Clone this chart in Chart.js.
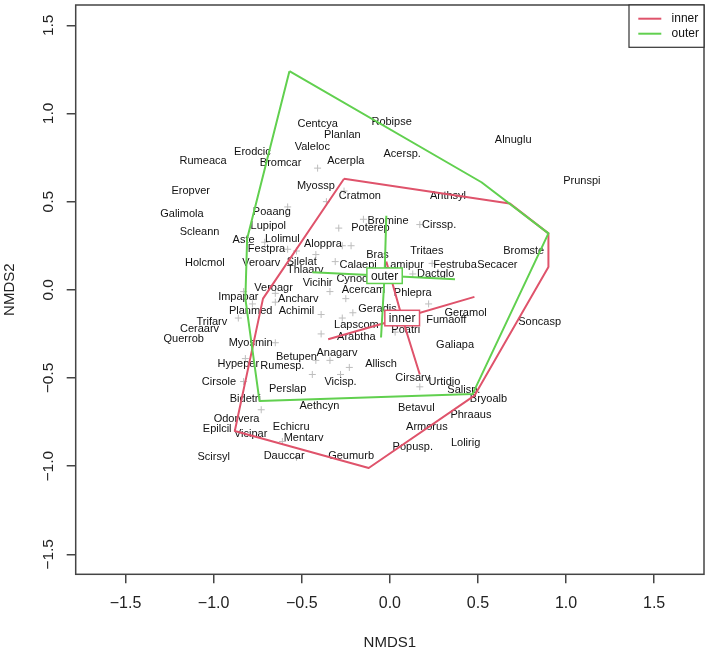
<!DOCTYPE html>
<html>
<head>
<meta charset="utf-8">
<script src="https://cdn.jsdelivr.net/npm/chart.js@4.4.1/dist/chart.umd.min.js"></script>
<style>
  html, body { margin: 0; padding: 0; background: #fff; }
  #wrap { width: 709px; height: 650px; }
</style>
</head>
<body>
<div id="wrap"><canvas id="nmds"></canvas></div>
<script>
// species labels (NMDS1 / NMDS2 scores)
const speciesNames = ['Rumeaca','Eropver','Galimola','Scleann','Holcmol','Trifarv','Ceraarv','Querrob','Cirsole','Hypeper',
  'Impapar','Erodcic','Bromcar','Centcya','Planlan','Robipse','Valeloc','Acerpla','Acersp.','Myossp',
  'Cratmon','Anthsyl','Poaang','Alnuglu','Prunspi','Lupipol','Aste','Lolimul','Festpra','Veroarv',
  'Silelat','Thlaarv','Veroagr','Ancharv','Planmed','Achimil','Myosmin','Betupen','Rumesp.','Perslap',
  'Bidetri','Odorvera','Epilcil','Vicipar','Scirsyl','Echicru','Mentarv','Dauccar','Geumurb','Aethcyn',
  'Betavul','Armorus','Popusp.','Phraaus','Lolirig','Bryoalb','Salisp.','Urtidio','Cirsarv','Allisch',
  'Vicisp.','Anagarv','Galiapa','Arabtha','Lapscom','Poatri','Geradis','Fumaoff','Geramol','Phlepra',
  'Acercam','Vicihir','Cynodac','Calaepi','Lamipur','Dactglo','Festruba','Secacer','Bromste','Soncasp',
  'Tritaes','Bras','Bromine','Poterep','Cirssp.','Aloppra'];
const speciesX = [-1.06,-1.13,-1.18,-1.08,-1.05,-1.01,-1.08,-1.17,-0.97,-0.86,
  -0.86,-0.78,-0.62,-0.41,-0.27,0.01,-0.44,-0.25,0.07,-0.42,
  -0.17,0.33,-0.67,0.70,1.09,-0.69,-0.83,-0.61,-0.70,-0.73,
  -0.50,-0.48,-0.66,-0.52,-0.79,-0.53,-0.79,-0.53,-0.61,-0.58,
  -0.82,-0.87,-0.98,-0.79,-1.00,-0.56,-0.49,-0.60,-0.22,-0.40,
  0.15,0.21,0.13,0.46,0.43,0.56,0.42,0.31,0.13,-0.05,
  -0.28,-0.30,0.37,-0.19,-0.19,0.09,-0.07,0.32,0.43,0.13,
  -0.15,-0.41,-0.18,-0.18,0.08,0.26,0.37,0.61,0.76,0.85,
  0.21,-0.07,-0.01,-0.11,0.28,-0.38];
const speciesY = [0.73,0.56,0.43,0.33,0.15,-0.18,-0.22,-0.28,-0.52,-0.42,
  -0.04,0.78,0.72,0.94,0.88,0.95,0.81,0.73,0.77,0.59,
  0.53,0.53,0.44,0.85,0.62,0.36,0.28,0.29,0.23,0.15,
  0.16,0.11,0.01,-0.05,-0.12,-0.12,-0.30,-0.38,-0.43,-0.56,
  -0.62,-0.73,-0.79,-0.82,-0.95,-0.78,-0.84,-0.94,-0.94,-0.66,
  -0.67,-0.78,-0.89,-0.71,-0.87,-0.62,-0.57,-0.52,-0.50,-0.42,
  -0.52,-0.36,-0.31,-0.27,-0.20,-0.23,-0.11,-0.17,-0.13,-0.02,
  0.00,0.04,0.06,0.14,0.14,0.09,0.14,0.14,0.22,-0.18,
  0.22,0.20,0.39,0.35,0.37,0.26];

// faint grey '+' points
const markX = [-0.15,-0.29,0.17,-0.27,-0.22,-0.42,-0.31,0.13,-0.34,-0.25,-0.39,-0.27,0.22,-0.39,0.03,0.24,-0.58,-0.71,-0.58,-0.53,
  -0.65,-0.65,-0.83,-0.86,-0.78,-0.65,-0.82,-0.83,-0.73,-0.42,-0.34,-0.23,-0.44,-0.28,0.17,-0.41,-0.26,-0.36,-0.61,-0.53,-0.21];
const markY = [0.40,0.35,0.37,0.25,0.25,0.20,0.16,0.09,-0.01,-0.05,-0.14,-0.16,-0.08,-0.25,-0.24,0.15,0.47,0.27,0.23,0.22,
  -0.02,-0.07,-0.01,-0.16,-0.08,-0.30,-0.39,-0.52,-0.68,-0.40,-0.40,-0.44,-0.48,-0.48,-0.55,0.69,0.56,0.50,-0.86,-0.95,-0.13];

// groups
const groupNames = ['inner', 'outer'];
const groupColors = ['#DF536B', '#61D04F'];
const centroidX = [0.07, -0.03];
const centroidY = [-0.16, 0.08];

// hull vertices
const innerHullX = [-0.26, 0.68, 0.90, 0.90, 0.48, -0.12, -0.88, -0.72];
const innerHullY = [0.63, 0.49, 0.32, 0.13, -0.60, -1.01, -0.80, -0.05];
const outerHullX = [-0.57, 0.52, 0.90, 0.47, -0.74, -0.82, -0.81];
const outerHullY = [1.24, 0.61, 0.32, -0.59, -0.63, -0.05, 0.29];

// spider end points
const innerSiteX = [0.48, -0.35, 0.17, -0.02];
const innerSiteY = [-0.04, -0.28, -0.48, 0.16];
const outerSiteX = [-0.02, -0.44, 0.37, -0.05];
const outerSiteY = [0.42, 0.10, 0.06, -0.27];

// axes
const xLimits = [-1.783, 1.783];
const yLimits = [-1.613, 1.615];
const tickVals = [-1.5, -1.0, -0.5, 0.0, 0.5, 1.0, 1.5];

const FONT = "'Liberation Sans', Arial, sans-serif";
const fmt = v => (v < 0 ? '\u2212' : '') + Math.abs(v).toFixed(1);

const hullData = (xs, ys) => xs.map((x, i) => ({ x: x, y: ys[i] })).concat([{ x: xs[0], y: ys[0] }]);
const spiderData = (cx, cy, xs, ys) => {
  const out = [];
  xs.forEach((x, i) => { out.push({ x: cx, y: cy }); out.push({ x: x, y: ys[i] }); });
  out.push({ x: cx, y: cy });
  return out;
};

const SPECIES_INDEX = 4;

const nmdsPlugin = {
  id: 'nmds',
  afterDatasetDraw(chart, args) {
    if (args.index !== SPECIES_INDEX) return;
    const ctx = chart.ctx;
    ctx.save();
    ctx.font = '11px ' + FONT;
    ctx.fillStyle = '#111';
    ctx.textAlign = 'center';
    ctx.textBaseline = 'middle';
    args.meta.data.forEach((pt, i) => ctx.fillText(speciesNames[i], pt.x, pt.y));
    ctx.restore();
  },
  afterDatasetsDraw(chart) {
    const ctx = chart.ctx;
    const xs = chart.scales.x, ys = chart.scales.y;
    ctx.save();
    ctx.font = '12px ' + FONT;
    ctx.textAlign = 'center';
    ctx.textBaseline = 'middle';
    groupNames.forEach((g, i) => {
      const px = xs.getPixelForValue(centroidX[i]);
      const py = ys.getPixelForValue(centroidY[i]);
      const w = ctx.measureText(g).width + 8, h = 15.5;
      ctx.fillStyle = '#fff';
      ctx.fillRect(px - w / 2, py - h / 2, w, h);
      ctx.strokeStyle = groupColors[i];
      ctx.lineWidth = 1.5;
      ctx.strokeRect(px - w / 2, py - h / 2, w, h);
      ctx.fillStyle = '#111';
      ctx.fillText(g, px, py + 0.5);
    });
    ctx.restore();
  },
  afterDraw(chart) {
    const ctx = chart.ctx;
    const ca = chart.chartArea;
    const ys = chart.scales.y;
    ctx.save();
    // plot box
    ctx.strokeStyle = '#444';
    ctx.lineWidth = 1.5;
    ctx.strokeRect(ca.left, ca.top, ca.right - ca.left, ca.bottom - ca.top);
    // y tick labels, rotated like R
    ctx.fillStyle = '#222';
    ctx.font = '15.5px ' + FONT;
    ctx.textAlign = 'center';
    ctx.textBaseline = 'alphabetic';
    tickVals.forEach(v => {
      const py = ys.getPixelForValue(v);
      ctx.save();
      ctx.translate(53.3, py);
      ctx.rotate(-Math.PI / 2);
      ctx.fillText(fmt(v), 0, 0);
      ctx.restore();
    });
    // legend
    const bw = 75, bh = 42.3, bx = ca.right - bw, by = ca.top;
    ctx.fillStyle = '#fff';
    ctx.fillRect(bx, by, bw, bh);
    ctx.strokeStyle = '#333';
    ctx.lineWidth = 1.2;
    ctx.strokeRect(bx, by, bw, bh);
    ctx.font = '12px ' + FONT;
    ctx.textAlign = 'left';
    ctx.textBaseline = 'middle';
    groupNames.forEach((g, i) => {
      const ly = by + 13.7 + i * 15;
      ctx.strokeStyle = groupColors[i];
      ctx.lineWidth = 2;
      ctx.beginPath();
      ctx.moveTo(bx + 9.3, ly);
      ctx.lineTo(bx + 32.3, ly);
      ctx.stroke();
      ctx.fillStyle = '#111';
      ctx.fillText(g, bx + 42.6, ly);
    });
    ctx.restore();
  }
};

new Chart(document.getElementById('nmds'), {
  type: 'scatter',
  data: {
    datasets: [
      { label: 'outer spider', data: spiderData(centroidX[1], centroidY[1], outerSiteX, outerSiteY),
        showLine: true, borderColor: groupColors[1], borderWidth: 2, pointRadius: 0, fill: false },
      { label: 'inner spider', data: spiderData(centroidX[0], centroidY[0], innerSiteX, innerSiteY),
        showLine: true, borderColor: groupColors[0], borderWidth: 2, pointRadius: 0, fill: false },
      { label: 'outer', data: hullData(outerHullX, outerHullY),
        showLine: true, borderColor: groupColors[1], borderWidth: 2, pointRadius: 0, fill: false, borderJoinStyle: 'round' },
      { label: 'inner', data: hullData(innerHullX, innerHullY),
        showLine: true, borderColor: groupColors[0], borderWidth: 2, pointRadius: 0, fill: false, borderJoinStyle: 'round' },
      { label: 'species', data: speciesX.map((x, i) => ({ x: x, y: speciesY[i] })),
        pointRadius: 0, showLine: false },
      { label: 'points', data: markX.map((x, i) => ({ x: x, y: markY[i] })),
        pointStyle: 'cross', pointRadius: 3.5, borderColor: '#bdbdbd', borderWidth: 1, backgroundColor: '#bdbdbd' }
    ]
  },
  options: {
    responsive: true,
    maintainAspectRatio: false,
    animation: false,
    events: [],
    layout: { padding: { top: 2, right: 2, left: 0, bottom: 0 } },
    plugins: { legend: { display: false }, tooltip: { enabled: false } },
    scales: {
      x: {
        type: 'linear',
        min: xLimits[0], max: xLimits[1],
        afterBuildTicks: s => { s.ticks = tickVals.map(v => ({ value: v })); },
        afterFit: s => { s.height = 75.7; },
        border: { display: false },
        grid: { drawOnChartArea: false, drawTicks: true, tickLength: 9, color: '#444', lineWidth: 1.5 },
        ticks: { autoSkip: false, maxRotation: 0, padding: 11, color: '#222',
          font: { family: FONT, size: 16 }, callback: v => fmt(v) },
        title: { display: true, text: 'NMDS1', color: '#222',
          font: { family: FONT, size: 15, lineHeight: 1 }, padding: { top: 0, bottom: 0 } }
      },
      y: {
        type: 'linear',
        min: yLimits[0], max: yLimits[1],
        afterBuildTicks: s => { s.ticks = tickVals.map(v => ({ value: v })); },
        afterFit: s => { s.width = 75.7; },
        border: { display: false },
        grid: { drawOnChartArea: false, drawTicks: true, tickLength: 9, color: '#444', lineWidth: 1.5 },
        ticks: { display: false },
        title: { display: true, text: 'NMDS2', color: '#222',
          font: { family: FONT, size: 15, lineHeight: 1 }, padding: { top: 2, bottom: 0 } }
      }
    }
  },
  plugins: [nmdsPlugin]
});
</script>
</body>
</html>
